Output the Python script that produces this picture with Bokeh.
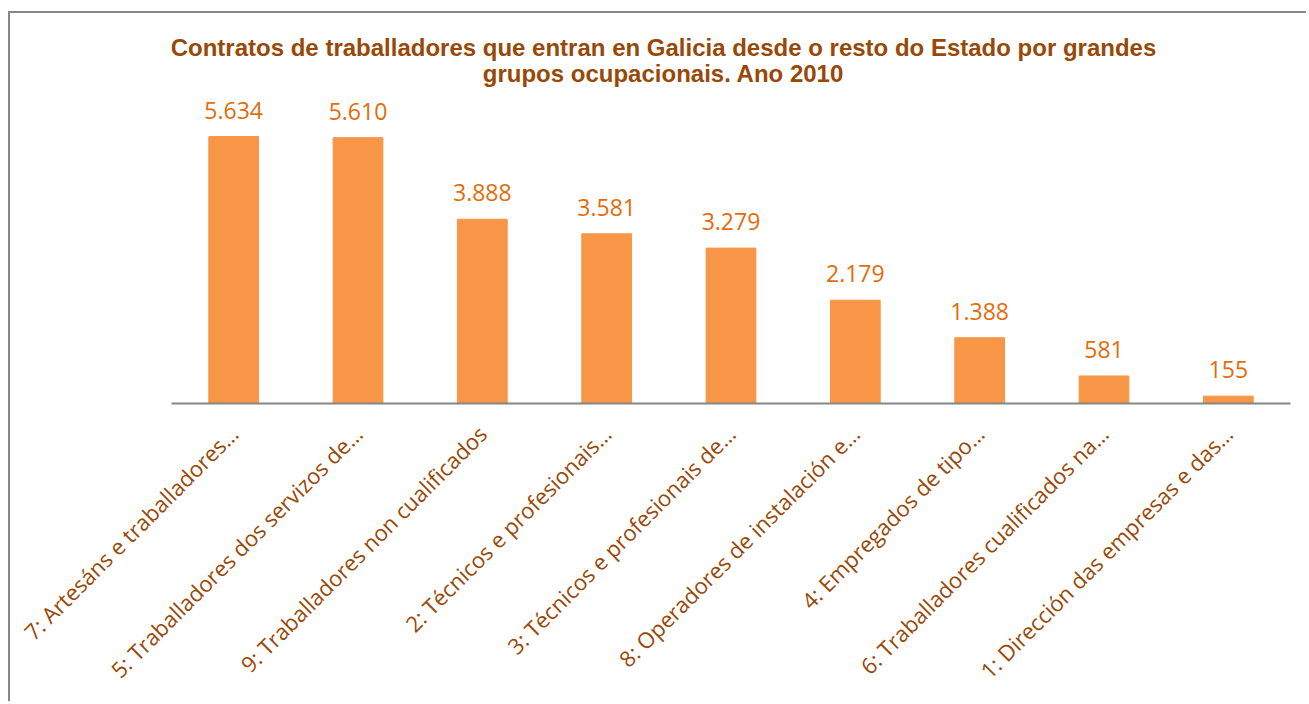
from math import pi
from bokeh.plotting import figure
from bokeh.models import ColumnDataSource, FactorRange, Range1d, LabelSet
from bokeh.core.properties import value
from bokeh.embed import file_html
from bokeh.resources import INLINE

# ---- data ----
categories = [
    "7: Artesáns e traballadores…",
    "5: Traballadores dos servizos de…",
    "9: Traballadores non cualificados",
    "2: Técnicos e profesionais…",
    "3: Técnicos e profesionais de…",
    "8: Operadores de instalación e…",
    "4: Empregados de tipo…",
    "6: Traballadores cualificados na…",
    "1: Dirección das empresas e das…",
]
contracts = [5634, 5610, 3888, 3581, 3279, 2179, 1388, 581, 155]
value_labels = [f"{v:,}".replace(",", ".") for v in contracts]
title_lines = [
    "Contratos de traballadores que entran en Galicia desde o resto do Estado por grandes",
    "grupos ocupacionais. Ano 2010",
]

# ---- styling ----
BAR = "#F79646"
VAL = "#E46C0A"
BROWN = "#984807"
GREY = "#878787"

y_end = 8230

src = ColumnDataSource(dict(cat=categories, val=contracts, lab=value_labels))

p = figure(
    x_range=FactorRange(factors=categories),
    y_range=Range1d(0, y_end),
    width=1298, height=690,
    output_backend="svg", toolbar_location=None,
    min_border_left=161, min_border_right=18,
    min_border_top=0, min_border_bottom=300,
)
p.styles = {
    "border-left": f"2px solid {GREY}",
    "border-top": f"2px solid {GREY}",
    "margin-top": "11px",
    "margin-left": "8px",
}
p.outline_line_color = None
p.background_fill_color = "white"
p.border_fill_color = "white"
p.xgrid.grid_line_color = None
p.ygrid.grid_line_color = None
p.yaxis.visible = False

p.vbar(x="cat", top="val", width=0.4, color=BAR, source=src)

labels = LabelSet(
    x="cat", y="val", text="lab", source=src,
    text_align="center", text_baseline="alphabetic", y_offset=18,
    text_font=value("Open Sans"), text_font_size="23px", text_color=VAL,
)
p.add_layout(labels)

tsrc = ColumnDataSource(dict(x=[3.957, 3.957], y=[7512, 6963], t=title_lines))
p.text(x="x", y="y", text="t", source=tsrc,
       text_align="center", text_baseline="middle",
       text_font=value("Liberation Sans"), text_font_style="bold",
       text_font_size="24px", text_color=BROWN)

ax = p.xaxis[0]
ax.axis_line_color = "#868686"
ax.axis_line_width = 2
ax.major_tick_line_color = None
ax.minor_tick_line_color = None
ax.major_label_orientation = pi / 4
ax.major_label_standoff = 20
ax.major_label_text_font = "Open Sans"
ax.major_label_text_font_size = "22px"
ax.major_label_text_color = BROWN

open("out.html", "w").write(file_html(p, INLINE))
